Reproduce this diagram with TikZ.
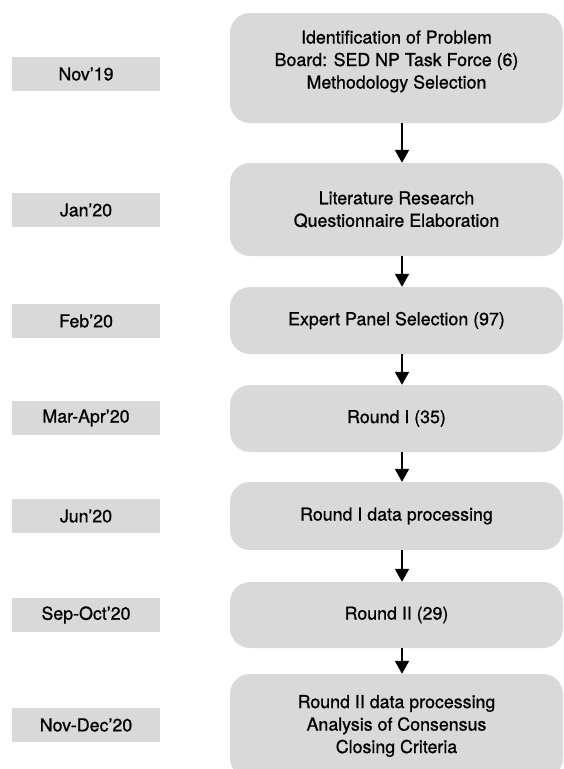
\documentclass[tikz,border=0pt]{standalone}
\usepackage{fontspec}
\setmainfont[FakeBold=0.9]{TeX Gyre Heros}
\usetikzlibrary{arrows.meta}
\usetikzlibrary{positioning}
\definecolor{boxgray}{RGB}{217,217,217}

\begin{document}
\begin{tikzpicture}[x=1pt, y=-1pt,
        font=\fontsize{17.8}{22.5}\selectfont,
        datebox/.style={fill=boxgray, minimum width=148pt, minimum height=34pt, inner sep=0pt},
        stagebox/.style={fill=boxgray, rounded corners=20pt, minimum width=333pt, align=center, inner sep=0pt},
        flow/.style={line width=2pt, -{Triangle[width=14pt, length=13pt]}}]
    \useasboundingbox (0,0) rectangle (564,769);

    % Dates
    \node[datebox] (nov19) at (86,74) {Nov’19};
    \node[datebox] (jan20) at (86,210) {Jan’20};
    \node[datebox] (feb20) at (86,321) {Feb’20};
    \node[datebox] (mar20) at (86,418) {Mar-Apr’20};
    \node[datebox] (jun20) at (86,516) {Jun’20};
    \node[datebox] (sep20) at (86,615) {Sep-Oct’20};
    \node[datebox] (nov20) at (86,725) {Nov-Dec’20};

    % Stages
    \node[stagebox, minimum height=110pt, text depth=17pt] (problem) at (396.5,68)
        {Identification of Problem\\Board: SED NP Task Force (6)\\Methodology Selection};
    \node[stagebox, minimum height=93pt] (research) at (396.5,209.5)
        {Literature Research\\Questionnaire Elaboration};
    \node[stagebox, minimum height=67pt] (panel) at (396.5,320.5)
        {Expert Panel Selection (97)};
    \node[stagebox, minimum height=67pt] (roundone) at (396.5,418.5)
        {Round I (35)};
    \node[stagebox, minimum height=68pt] (procone) at (396.5,516)
        {Round I data processing};
    \node[stagebox, minimum height=66pt] (roundtwo) at (396.5,615)
        {Round II (29)};
    \node[stagebox, minimum height=104pt] (proctwo) at (396.5,726)
        {Round II data processing\\Analysis of Consensus\\Closing Criteria};

    % Arrows
    \draw[flow] ([xshift=5.5pt]problem.south) -- ([xshift=5.5pt]research.north);
    \draw[flow] ([xshift=5.5pt]research.south) -- ([xshift=5.5pt]panel.north);
    \draw[flow] ([xshift=5.5pt]panel.south) -- ([xshift=5.5pt]roundone.north);
    \draw[flow] ([xshift=5.5pt]roundone.south) -- ([xshift=5.5pt]procone.north);
    \draw[flow] ([xshift=5.5pt]procone.south) -- ([xshift=5.5pt]roundtwo.north);
    \draw[flow] ([xshift=5.5pt]roundtwo.south) -- ([xshift=5.5pt]proctwo.north);
\end{tikzpicture}
\end{document}
